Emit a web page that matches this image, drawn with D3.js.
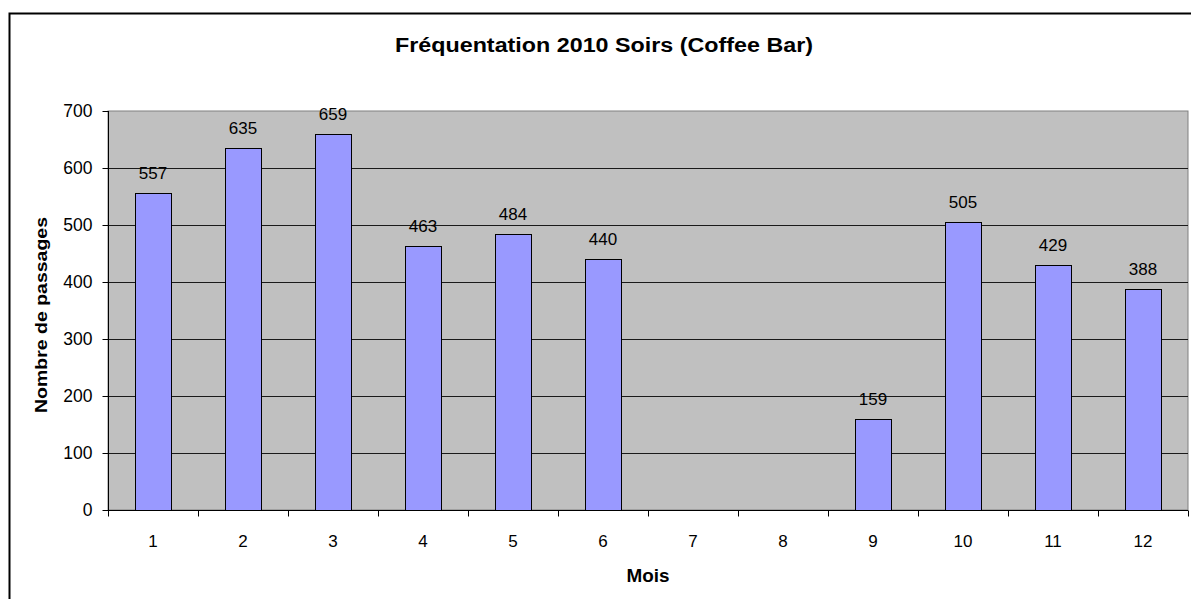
<!DOCTYPE html>
<html>
<head>
<meta charset="utf-8">
<script src="https://cdn.jsdelivr.net/npm/d3@7"></script>
<style>
  body { margin: 0; background: #fff; }
  svg { display: block; font-family: "Liberation Sans", Arial, sans-serif; }
</style>
</head>
<body>
<div id="chart"></div>
<script>
// data
var months = ["1","2","3","4","5","6","7","8","9","10","11","12"];
var passages = [557, 635, 659, 463, 484, 440, null, null, 159, 505, 429, 388];
var yTicks = [0, 100, 200, 300, 400, 500, 600, 700];
var chartTitle = "Fréquentation 2010 Soirs (Coffee Bar)";
var xTitle = "Mois";
var yTitle = "Nombre de passages";

var WIDTH = 1191, HEIGHT = 599;
var margin = {top: 111, right: 3, bottom: 89, left: 108},
    width = WIDTH - margin.left - margin.right,
    height = HEIGHT - margin.top - margin.bottom;

var svg = d3.select("#chart").append("svg")
    .attr("width", WIDTH)
    .attr("height", HEIGHT);

// outer chart frame (runs past the right/bottom edge like the original)
svg.append("rect")
    .attr("x", 9.5).attr("y", 13.5)
    .attr("width", WIDTH + 20).attr("height", HEIGHT + 20)
    .attr("fill", "#fff")
    .attr("stroke", "#000")
    .attr("stroke-width", 2);

// excel stretched the text a bit, so fix its length
svg.append("text")
    .attr("x", 604).attr("y", 52)
    .attr("text-anchor", "middle")
    .attr("textLength", 418)
    .attr("lengthAdjust", "spacingAndGlyphs")
    .style("font-size", "20px")
    .style("font-weight", "bold")
    .text(chartTitle);

var g = svg.append("g").attr("transform", `translate(${margin.left},${margin.top})`);

var x = d3.scaleBand().domain(months).range([0, width]).paddingInner(0.6).paddingOuter(0.3);
var band = d3.scaleBand().domain(months).range([0, width]);
var y = d3.scaleLinear().domain([0, 700]).range([height, 0]);

// plot background
g.append("rect")
    .attr("width", width).attr("height", height)
    .attr("fill", "#c0c0c0")
    .attr("stroke", "#808080")
    .attr("stroke-width", 1);

// gridlines
g.selectAll("line.grid")
  .data(yTicks.filter(d => d > 0 && d < 700))
  .join("line")
    .attr("class", "grid")
    .attr("x1", 0).attr("x2", width)
    .attr("y1", d => Math.round(y(d)) + 0.5)
    .attr("y2", d => Math.round(y(d)) + 0.5)
    .attr("stroke", "#1a1a1a");

// bars
var data = months.map((m, i) => ({m: m, v: passages[i]})).filter(d => d.v != null);

g.selectAll("rect.bar")
  .data(data)
  .join("rect")
    .attr("class", "bar")
    .attr("x", d => Math.round(x(d.m)) + 0.5)
    .attr("y", d => Math.round(y(d.v)) + 0.5)
    .attr("width", Math.round(x.bandwidth()))
    .attr("height", d => Math.round(height - y(d.v)))
    .attr("fill", "#9999ff")
    .attr("stroke", "#000")
    .attr("stroke-width", 1);

g.selectAll("text.val")
  .data(data)
  .join("text")
    .attr("class", "val")
    .attr("x", d => x(d.m) + x.bandwidth() / 2)
    .attr("y", d => y(d.v) - 14)
    .attr("text-anchor", "middle")
    .style("font-size", "17px")
    .text(d => d.v);

// y axis
var yAxis = g.append("g")
    .call(d3.axisLeft(y).tickValues(yTicks).tickSize(6).tickPadding(10))
    .attr("transform", "translate(0.5,0)");
yAxis.select(".domain").attr("stroke", "#000").attr("d", `M0,0V${height}`);
yAxis.selectAll(".tick line").attr("stroke", "#000");
yAxis.selectAll("text").style("font-size", "17.5px").attr("fill", "#000");

// x axis: labels centred, ticks on band boundaries
var xAxis = g.append("g").attr("transform", `translate(0,${height + 0.5})`);
xAxis.append("line").attr("x1", 0).attr("x2", width).attr("stroke", "#000");
xAxis.selectAll("line.tk")
  .data(months.concat(["end"]))
  .join("line")
    .attr("class", "tk")
    .attr("x1", (d, i) => Math.round(i * band.bandwidth()) + 0.5)
    .attr("x2", (d, i) => Math.round(i * band.bandwidth()) + 0.5)
    .attr("y1", 0).attr("y2", 6)
    .attr("stroke", "#000");
xAxis.selectAll("text")
  .data(months)
  .join("text")
    .attr("x", d => band(d) + band.bandwidth() / 2)
    .attr("y", 36)
    .attr("text-anchor", "middle")
    .style("font-size", "17px")
    .text(d => d);

svg.append("text")
    .attr("x", margin.left + width / 2).attr("y", 582)
    .attr("text-anchor", "middle")
    .attr("textLength", 43)
    .attr("lengthAdjust", "spacingAndGlyphs")
    .style("font-size", "18px")
    .style("font-weight", "bold")
    .text(xTitle);

svg.append("text")
    .attr("transform", `translate(47,315) rotate(-90)`)
    .attr("text-anchor", "middle")
    .attr("textLength", 196)
    .attr("lengthAdjust", "spacingAndGlyphs")
    .style("font-size", "16px")
    .style("font-weight", "bold")
    .text(yTitle);
</script>
</body>
</html>
